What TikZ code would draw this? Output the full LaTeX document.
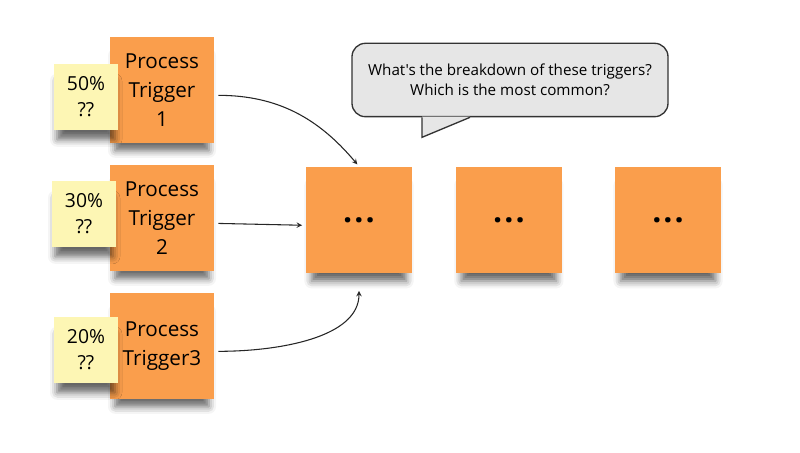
\documentclass[tikz,border=0pt]{standalone}
\usepackage{fontspec}
\setmainfont{Open Sans}[Ligatures=TeXOff]
\usetikzlibrary{positioning,shadows.blur}
\definecolor{stickyorange}{RGB}{250,158,76}
\definecolor{stickyyellow}{RGB}{253,246,180}
\definecolor{bubblegray}{RGB}{230,230,230}
\newcommand{\moresteps}{.\hspace{1.6pt}.\hspace{1.6pt}.}
\begin{document}
\begin{tikzpicture}[x=0.75pt,y=-0.75pt]

  % Definitions
  \tikzstyle{paper} = [blur shadow={shadow xshift=0pt, shadow yshift=-11pt, shadow scale=0.9, shadow opacity=60, shadow blur radius=6pt}]
  \tikzstyle{trigger} = [rectangle, paper, fill=stickyorange, minimum width=78pt, minimum height=79pt, inner sep=0pt, align=center, font=\fontsize{15.5}{22}\selectfont]
  \tikzstyle{stepbox} = [rectangle, paper, fill=stickyorange, minimum width=79pt, minimum height=80pt, inner sep=0pt, font=\fontsize{24}{24}\selectfont\bfseries]
  \tikzstyle{note} = [rectangle, paper, fill=stickyyellow, minimum width=48pt, minimum height=49pt, inner sep=0pt, align=center, font=\fontsize{14.5}{19.5}\selectfont]
  \tikzstyle{bubble} = [rectangle, rounded corners=10pt, draw=black!80, line width=1pt, fill=bubblegray, minimum width=237pt, minimum height=55pt, align=center, font=\fontsize{11.4}{15}\selectfont]
  \tikzstyle{arrow} = [->,>=stealth, line width=0.8pt, black!85]

  \useasboundingbox (0,0) rectangle (800,453);

  \node (t1) [trigger] at (162,90) {Process\\Trigger\\1};
  \node (t2) [trigger, below of=t1, node distance=96pt] {Process\\Trigger\\2};
  \node (t3) [trigger, below of=t2, node distance=96pt] {Process\\Trigger3};

  \node (p1) [note] at (86,97) {50\%\\??};
  \node (p2) [note] at (84,214) {30\%\\??};
  \node (p3) [note] at (86,350) {20\%\\??};

  \node (s1) [stepbox] at (359,220) {\moresteps};
  \node (s2) [stepbox, right=33pt of s1] {\moresteps};
  \node (s3) [stepbox, right=40pt of s2] {\moresteps};

  \node (ask) [bubble] at (510,80) {What's the breakdown of these triggers?\\Which is the most common?};
  \coordinate (tail) at ([xshift=-66pt,yshift=-15pt]ask.south);
  \fill [bubblegray] ([xshift=-66pt,yshift=0.6pt]ask.south) -- (tail) -- ([xshift=-30pt,yshift=0.6pt]ask.south) -- cycle;
  \draw [line width=1pt, black!80] ([xshift=-66pt]ask.south) -- (tail) -- ([xshift=-30pt]ask.south);

  \draw [arrow, shorten <=3pt, shorten >=2pt] ([yshift=-4pt]t1.east) to[out=0,in=130] (s1.north);
  \draw [arrow, shorten <=3pt, shorten >=3pt] ([yshift=-4pt]t2.east) -- ([yshift=-4pt]s1.west);
  \draw [arrow, shorten <=3pt, shorten >=13pt] ([yshift=-4pt]t3.east) to[out=0,in=-90] (s1.south);

\end{tikzpicture}
\end{document}
